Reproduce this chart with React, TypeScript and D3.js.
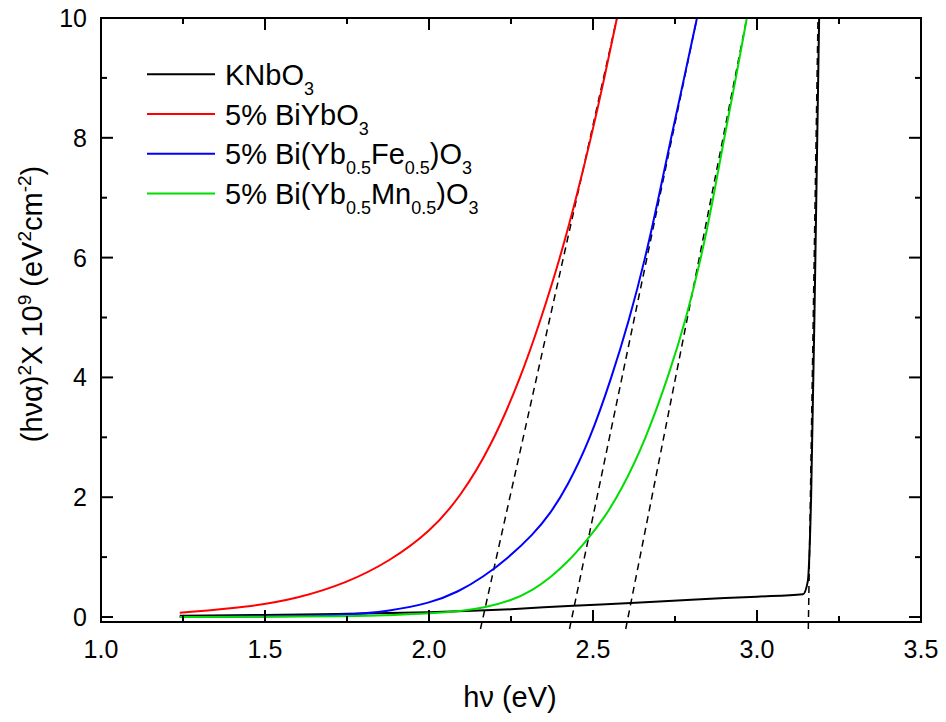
import React from "react";
import * as d3 from "d3";

const W = 946;
const H = 722;
const M = { top: 18, right: 25, bottom: 100, left: 101 };

const xDomain: [number, number] = [1.0, 3.5];
const yDomain: [number, number] = [-0.083, 10];
const xTicks = [1.0, 1.5, 2.0, 2.5, 3.0, 3.5];
const xMinorTicks = [1.25, 1.75, 2.25, 2.75, 3.25];
const yTicks = [0, 2, 4, 6, 8, 10];
const yMinorTicks = [1, 3, 5, 7, 9];

// (hv, (hv·alpha)^2 x 1e9)
const knbo3: [number, number][] = [
  [1.24, 0.02], [1.5, 0.035], [1.75, 0.055], [2.0, 0.08], [2.25, 0.13], [2.44, 0.19],
  [2.6, 0.23], [2.8, 0.29], [3.0, 0.34], [3.14, 0.38], [3.155, 0.6], [3.165, 2.0],
  [3.178, 6.0], [3.19, 10.2],
];
const biYbO3: [number, number][] = [
  [1.24, 0.07], [1.454, 0.17], [1.6, 0.31], [1.75, 0.57], [1.88, 0.93], [2.003, 1.42],
  [2.095, 2.0], [2.19, 2.85], [2.28, 4.0], [2.34, 4.95], [2.4, 6.0], [2.45, 7.02],
  [2.494, 8.0], [2.535, 9.0], [2.573, 10.0],
];
const biYbFe: [number, number][] = [
  [1.24, 0.0], [1.5, 0.008], [1.75, 0.03], [1.88, 0.1], [2.003, 0.23], [2.09, 0.42],
  [2.166, 0.67], [2.24, 0.98], [2.318, 1.38], [2.37, 1.73], [2.42, 2.16], [2.49, 2.95],
  [2.557, 4.0], [2.61, 4.95], [2.66, 6.0], [2.7, 7.0], [2.738, 8.0], [2.778, 9.0],
  [2.817, 10.0],
];
const biYbMn: [number, number][] = [
  [1.24, 0.0], [1.5, 0.004], [1.75, 0.012], [1.9, 0.035], [2.0, 0.06], [2.1, 0.1],
  [2.165, 0.15], [2.25, 0.27], [2.317, 0.45], [2.37, 0.66], [2.42, 0.9], [2.48, 1.27],
  [2.53, 1.62], [2.585, 2.1], [2.66, 2.95], [2.735, 4.1], [2.785, 5.0], [2.83, 6.0],
  [2.867, 7.0], [2.9, 8.0], [2.936, 9.0], [2.969, 10.0],
];

// linear extrapolation lines: x at y = 0 and x at y = 10
const fitBottomX = [2.165, 2.436, 2.607, 3.157];
const fitTopX = [2.573, 2.817, 2.969, 3.186];

const seriesData = [knbo3, biYbO3, biYbFe, biYbMn];
const seriesColors = ["#000000", "#ff0000", "#0000ff", "#00dd00"];

type Part = { t: string; sub?: boolean; sup?: boolean };
const legendLabels: Part[][] = [
  [{ t: "KNbO" }, { t: "3", sub: true }],
  [{ t: "5% BiYbO" }, { t: "3", sub: true }],
  [{ t: "5% Bi(Yb" }, { t: "0.5", sub: true }, { t: "Fe" }, { t: "0.5", sub: true }, { t: ")O" }, { t: "3", sub: true }],
  [{ t: "5% Bi(Yb" }, { t: "0.5", sub: true }, { t: "Mn" }, { t: "0.5", sub: true }, { t: ")O" }, { t: "3", sub: true }],
];
const yLabel: Part[] = [
  { t: "(h\u03BD\u03B1)" }, { t: "2", sup: true }, { t: "X 10" }, { t: "9", sup: true },
  { t: " (eV" }, { t: "2", sup: true }, { t: "cm" }, { t: "-2", sup: true }, { t: ")" },
];
const xLabel = "h\u03BD (eV)";

function rich(parts: Part[], subSize: number, subShift: number, supShift: number) {
  let cur = 0;
  return parts.map((p, i) => {
    const target = p.sub ? subShift : p.sup ? -supShift : 0;
    const dy = target - cur;
    cur = target;
    return (
      <tspan key={i} dy={dy} fontSize={p.sub || p.sup ? subSize : undefined}>
        {p.t}
      </tspan>
    );
  });
}

export default function App() {
  const x = d3.scaleLinear().domain(xDomain).range([M.left, W - M.right]);
  const y = d3.scaleLinear().domain(yDomain).range([H - M.bottom, M.top]);
  const sharpLine = d3
    .line<[number, number]>()
    .x((d) => x(d[0]))
    .y((d) => y(d[1]))
    .curve(d3.curveMonotoneX);
  const smoothLine = d3
    .line<[number, number]>()
    .x((d) => x(d[0]))
    .y((d) => y(d[1]))
    .curve(d3.curveBasis);

  const x0 = M.left, x1 = W - M.right, y0 = H - M.bottom, y1 = M.top;
  const font = "'Liberation Sans', Arial, sans-serif";

  return (
    <svg width={W} height={H} style={{ position: "absolute", left: 0, top: 0, background: "#fff" }} fontFamily={font}>
      <defs>
        <clipPath id="plot">
          <rect x={x0} y={y1} width={x1 - x0} height={y0 - y1} />
        </clipPath>
      </defs>
      {fitBottomX.map((b, i) => {
        const t = fitTopX[i];
        const yb = -0.2;
        const xb = b + (t - b) * (yb / 10);
        return (
          <line key={i} x1={x(xb)} y1={y(yb)} x2={x(t)} y2={y(10)} stroke="#000" strokeWidth={1.5} strokeDasharray="7,5" />
        );
      })}
      <g clipPath="url(#plot)">
        {seriesData.map((d, i) => (
          <path
            key={i}
            d={(i === 0 ? sharpLine(d) : smoothLine(d)) || ""}
            fill="none"
            stroke={seriesColors[i]}
            strokeWidth={2}
          />
        ))}
      </g>
      <rect x={x0} y={y1} width={x1 - x0} height={y0 - y1} fill="none" stroke="#000" strokeWidth={2} />
      {xTicks.map((v) => (
        <g key={"xt" + v}>
          <line x1={x(v)} x2={x(v)} y1={y0} y2={y0 - 12} stroke="#000" strokeWidth={2} />
          <line x1={x(v)} x2={x(v)} y1={y1} y2={y1 + 12} stroke="#000" strokeWidth={2} />
          <text x={x(v)} y={658} textAnchor="middle" fontSize={25}>
            {v.toFixed(1)}
          </text>
        </g>
      ))}
      {xMinorTicks.map((v) => (
        <g key={"xm" + v}>
          <line x1={x(v)} x2={x(v)} y1={y0} y2={y0 - 6} stroke="#000" strokeWidth={2} />
          <line x1={x(v)} x2={x(v)} y1={y1} y2={y1 + 6} stroke="#000" strokeWidth={2} />
        </g>
      ))}
      {yTicks.map((v) => (
        <g key={"yt" + v}>
          <line x1={x0} x2={x0 + 12} y1={y(v)} y2={y(v)} stroke="#000" strokeWidth={2} />
          <line x1={x1} x2={x1 - 12} y1={y(v)} y2={y(v)} stroke="#000" strokeWidth={2} />
          <text x={87} y={y(v) + 9} textAnchor="end" fontSize={25}>
            {v}
          </text>
        </g>
      ))}
      {yMinorTicks.map((v) => (
        <g key={"ym" + v}>
          <line x1={x0} x2={x0 + 6} y1={y(v)} y2={y(v)} stroke="#000" strokeWidth={2} />
          <line x1={x1} x2={x1 - 6} y1={y(v)} y2={y(v)} stroke="#000" strokeWidth={2} />
        </g>
      ))}
      <text x={510} y={707} textAnchor="middle" fontSize={29}>
        {xLabel}
      </text>
      <text transform="translate(42,304) rotate(-90)" textAnchor="middle" fontSize={29}>
        {rich(yLabel, 19, 9, 11)}
      </text>
      {legendLabels.map((parts, i) => {
        const ly = 74.3 + i * 39.7;
        return (
          <g key={"lg" + i}>
            <line x1={147} x2={215} y1={ly} y2={ly} stroke={seriesColors[i]} strokeWidth={2} />
            <text x={225} y={ly + 10.7} fontSize={29}>
              {rich(parts, 18, 10, 10)}
            </text>
          </g>
        );
      })}
    </svg>
  );
}
